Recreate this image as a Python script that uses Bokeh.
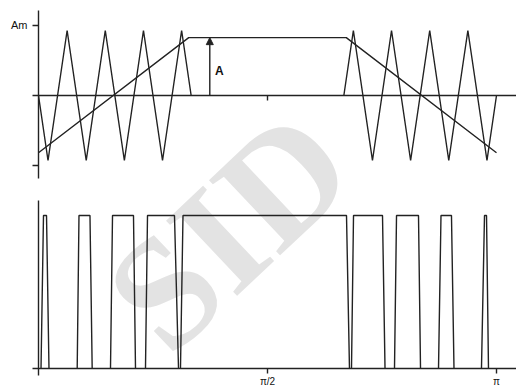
from bokeh.plotting import figure
from bokeh.models import LinearAxis, Range1d, FixedTicker, Arrow, NormalHead
from bokeh.core.properties import value
from bokeh.embed import file_html
from bokeh.resources import INLINE

# ---- data (x in units of pi) ----
carrier_left_x = [0.0, 0.0208, 0.0625, 0.1042, 0.1458, 0.1875, 0.2292, 0.2708, 0.3125, 0.3333]
carrier_left_y = [0, -1, 1, -1, 1, -1, 1, -1, 1, 0]
carrier_right_x = [0.6667, 0.6875, 0.7292, 0.7708, 0.8125, 0.8542, 0.8958, 0.9375, 0.9792, 1.0]
carrier_right_y = [0, 1, -1, 1, -1, 1, -1, 1, -1, 0]
mod_x = [0.0, 0.328, 0.672, 1.0]
mod_y = [-0.88, 0.89, 0.89, -0.88]
amp_A = 0.89
am_level = 1.077

pulse_rise_start = [0.0055, 0.0845, 0.1572, 0.2336, 0.3100, 0.6834, 0.7773, 0.8734, 0.9672]
pulse_rise_end   = [0.0109, 0.0884, 0.1616, 0.2380, 0.3155, 0.6878, 0.7817, 0.8788, 0.9738]
pulse_fall_start = [0.0175, 0.1124, 0.2074, 0.2969, 0.6725, 0.7511, 0.8297, 0.9017, 0.9782]
pulse_fall_end   = [0.0229, 0.1172, 0.2118, 0.3057, 0.6790, 0.7566, 0.8341, 0.9072, 0.9825]
pulse_high = 1.0

y_ticks_top = [-am_level, am_level]
y_tick_labels_top = ["", "Am"]
x_ticks_bottom = [0.5, 1.0]
x_tick_labels_bottom = ["π/2", "π"]

INK = "#222222"
LW = 1.4

p = figure(width=516, height=388,
           x_range=Range1d(-0.08297, 1.04367),
           y_range=Range1d(-4.5077, 1.4615),
           x_axis_type=None, y_axis_type=None,
           output_backend="svg", toolbar_location=None,
           min_border=0, outline_line_color=None, title=None,
           background_fill_color="white", border_fill_color="white")
p.extra_y_ranges = {"pwm": Range1d(-0.1307, 2.4052)}

# watermark
p.text(x=[0.4148], y=[-2.077], text=["SID"], angle=0.757,
       text_font=value("Liberation Serif"), text_font_size="158px",
       text_font_style="bold",
       text_color="#e3e3e3", text_align="center", text_baseline="middle")

def style_axis(ax):
    ax.axis_line_color = INK
    ax.axis_line_width = LW
    ax.major_tick_line_color = INK
    ax.major_tick_line_width = LW
    ax.major_tick_in = 0
    ax.minor_tick_in = 0
    ax.minor_tick_out = 0
    ax.major_label_text_color = "#111111"
    ax.major_label_text_font = "Liberation Sans"

# top panel y axis
ya = LinearAxis(fixed_location=0, bounds=(-1.277, 1.308),
                ticker=FixedTicker(ticks=y_ticks_top, minor_ticks=[]),
                major_label_overrides=dict(zip(y_ticks_top, y_tick_labels_top)))
style_axis(ya)
ya.major_tick_out = 6
ya.major_label_standoff = 5
ya.major_label_text_font_size = "11px"
p.add_layout(ya, "left")

# top panel zero line
xa_top = LinearAxis(fixed_location=0, bounds=(-0.0131, 1.05),
                    ticker=FixedTicker(ticks=[0.5], minor_ticks=[]),
                    major_label_overrides={0.5: ""})
style_axis(xa_top)
xa_top.major_tick_out = 5
p.add_layout(xa_top, "below")

# bottom panel y axis
yb = LinearAxis(y_range_name="pwm", fixed_location=0, bounds=(-0.046, 1.098),
                ticker=FixedTicker(ticks=[], minor_ticks=[]))
style_axis(yb)
p.add_layout(yb, "left")

# bottom panel baseline with pi ticks
xb = LinearAxis(y_range_name="pwm", fixed_location=0, bounds=(-0.0131, 1.05),
                ticker=FixedTicker(ticks=x_ticks_bottom, minor_ticks=[]),
                major_label_overrides=dict(zip(x_ticks_bottom, x_tick_labels_bottom)))
style_axis(xb)
xb.major_tick_out = 5
xb.major_label_standoff = 2
xb.major_label_text_font_size = "10px"
p.add_layout(xb, "below")

# top panel curves
p.line(carrier_left_x, carrier_left_y, line_color=INK, line_width=LW)
p.line(carrier_right_x, carrier_right_y, line_color=INK, line_width=LW)
p.line(mod_x, mod_y, line_color=INK, line_width=LW)

arrow_x = 0.374
p.add_layout(Arrow(end=NormalHead(size=7, line_color=INK, fill_color=INK, line_width=1),
                   x_start=arrow_x, y_start=0, x_end=arrow_x, y_end=amp_A,
                   line_color=INK, line_width=LW))
p.text(x=[0.395], y=[0.37], text=["A"], text_font=value("Liberation Sans"),
       text_font_style="bold", text_font_size="12px", text_color="#111111",
       text_align="center", text_baseline="middle")

# bottom panel pulses
xs = [[a, b, c, d] for a, b, c, d in zip(pulse_rise_start, pulse_rise_end, pulse_fall_start, pulse_fall_end)]
ys = [[0, pulse_high, pulse_high, 0] for _ in xs]
p.multi_line(xs, ys, line_color=INK, line_width=LW, y_range_name="pwm")

open("out.html", "w").write(file_html(p, INLINE))
